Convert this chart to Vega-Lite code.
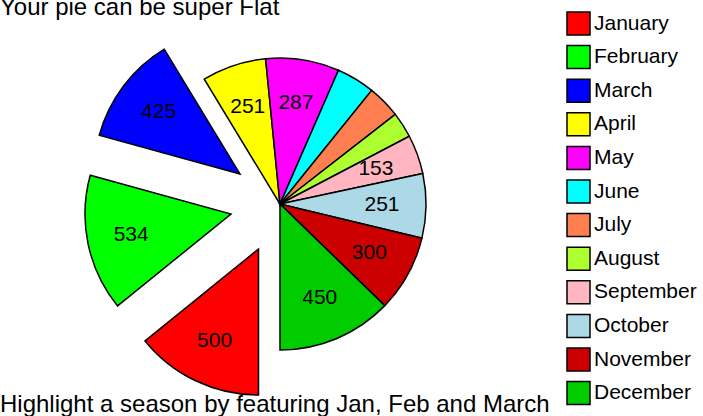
{
  "$schema": "https://vega.github.io/schema/vega-lite/v6.json",
  "padding": {"left": 0, "right": 0, "top": -4, "bottom": 0},
  "background": "white",
  "config": {"font": "Liberation Sans", "view": {"stroke": null}},
  "title": {"text": "Your pie can be super Flat", "anchor": "start", "fontSize": 24, "fontWeight": "normal", "color": "black", "offset": -9},
  "datasets": {
    "months": [
      {"idx": 1, "month": "January", "value": 500},
      {"idx": 2, "month": "February", "value": 534},
      {"idx": 3, "month": "March", "value": 425},
      {"idx": 4, "month": "April", "value": 251},
      {"idx": 5, "month": "May", "value": 287},
      {"idx": 6, "month": "June", "value": 150},
      {"idx": 7, "month": "July", "value": 130},
      {"idx": 8, "month": "August", "value": 100},
      {"idx": 9, "month": "September", "value": 153},
      {"idx": 10, "month": "October", "value": 251},
      {"idx": 11, "month": "November", "value": 300},
      {"idx": 12, "month": "December", "value": 450}
    ]
  },
  "vconcat": [
    {
      "width": 560,
      "height": 366,
      "title": {"text": "Highlight a season by featuring Jan, Feb and March", "orient": "bottom", "anchor": "start", "frame": "group", "fontSize": 24, "fontWeight": "normal", "color": "black", "offset": -5},
      "data": {"name": "months"},
      "encoding": {
        "theta": {"field": "value", "type": "quantitative", "stack": true, "scale": {"range": [3.14159265, 9.42477796]}},
        "order": {"field": "idx", "type": "quantitative"},
        "color": {
          "field": "month", "type": "nominal",
          "scale": {
            "domain": ["January", "February", "March", "April", "May", "June", "July", "August", "September", "October", "November", "December"],
            "range": ["#FF0000", "#00FF00", "#0000FF", "#FFFF00", "#FF00FF", "#00FFFF", "#FF7F50", "#ADFF2F", "#FFB6C1", "#ADD8E6", "#CC0000", "#00CC00"]
          },
          "legend": {
            "title": null, "orient": "none", "legendX": 566, "legendY": -10,
            "symbolType": "square", "symbolSize": 529, "symbolStrokeColor": "black", "symbolStrokeWidth": 1.5, "symbolOpacity": 1,
            "labelFontSize": 21, "labelColor": "black", "labelOffset": 3, "rowPadding": 4.6
          }
        }
      },
      "layer": [
        {
          "mark": {"type": "arc", "outerRadius": 146, "stroke": "black", "strokeWidth": 1.5},
          "encoding": {"opacity": {"condition": {"test": "datum.idx <= 3", "value": 0}, "value": 1}}
        },
        {
          "mark": {"type": "arc", "outerRadius": 146, "stroke": "black", "strokeWidth": 1.5, "xOffset": -21.5, "yOffset": 45},
          "encoding": {"opacity": {"condition": {"test": "datum.idx == 1", "value": 1}, "value": 0}}
        },
        {
          "mark": {"type": "arc", "outerRadius": 146, "stroke": "black", "strokeWidth": 1.5, "xOffset": -49, "yOffset": 10},
          "encoding": {"opacity": {"condition": {"test": "datum.idx == 2", "value": 1}, "value": 0}}
        },
        {
          "mark": {"type": "arc", "outerRadius": 146, "stroke": "black", "strokeWidth": 1.5, "xOffset": -40, "yOffset": -30},
          "encoding": {"opacity": {"condition": {"test": "datum.idx == 3", "value": 1}, "value": 0}}
        },
        {
          "mark": {"type": "text", "radius": 102, "fontSize": 21},
          "encoding": {
            "text": {"field": "value", "type": "quantitative"},
            "color": {"value": "black"},
            "opacity": {"condition": {"test": "datum.idx > 3 && datum.value >= 153", "value": 1}, "value": 0}
          }
        },
        {
          "mark": {"type": "text", "radius": 102, "fontSize": 21, "xOffset": -21.5, "yOffset": 45},
          "encoding": {
            "text": {"field": "value", "type": "quantitative"},
            "color": {"value": "black"},
            "opacity": {"condition": {"test": "datum.idx == 1", "value": 1}, "value": 0}
          }
        },
        {
          "mark": {"type": "text", "radius": 102, "fontSize": 21, "xOffset": -49, "yOffset": 10},
          "encoding": {
            "text": {"field": "value", "type": "quantitative"},
            "color": {"value": "black"},
            "opacity": {"condition": {"test": "datum.idx == 2", "value": 1}, "value": 0}
          }
        },
        {
          "mark": {"type": "text", "radius": 102, "fontSize": 21, "xOffset": -40, "yOffset": -30},
          "encoding": {
            "text": {"field": "value", "type": "quantitative"},
            "color": {"value": "black"},
            "opacity": {"condition": {"test": "datum.idx == 3", "value": 1}, "value": 0}
          }
        }
      ]
    }
  ]
}
